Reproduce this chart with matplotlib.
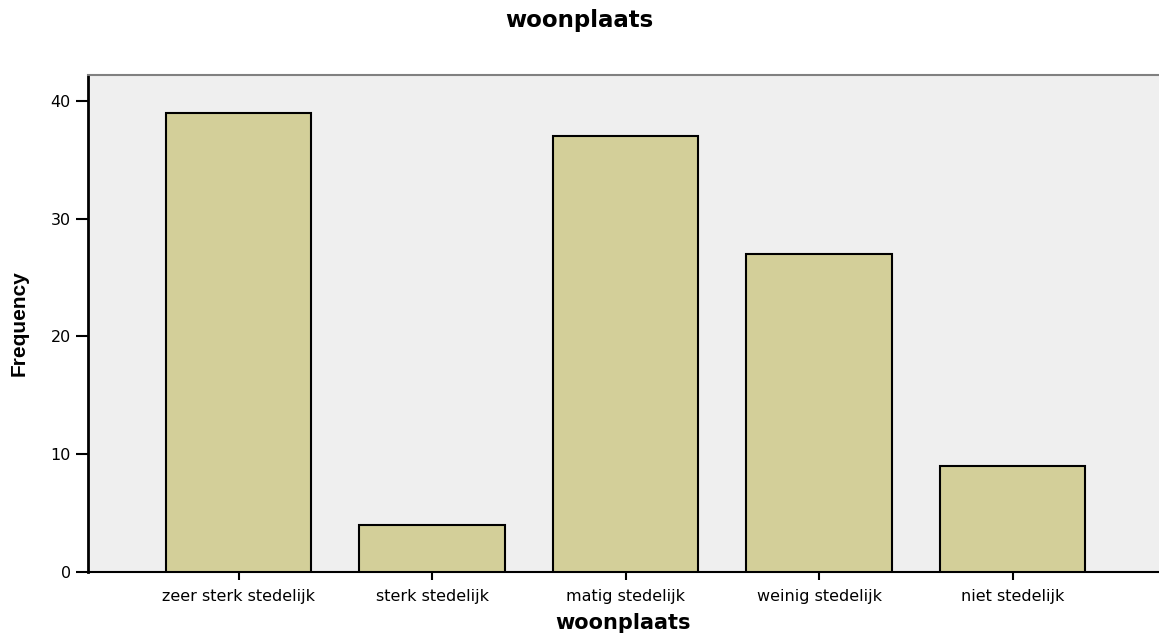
import matplotlib
matplotlib.use("Agg")
import matplotlib.pyplot as plt

categories = ["zeer sterk stedelijk", "sterk stedelijk", "matig stedelijk", "weinig stedelijk", "niet stedelijk"]
frequencies = [39, 4, 37, 27, 9]
yticks = [0, 10, 20, 30, 40]

plt.rcParams['font.family'] = ['DejaVu Sans']

fig = plt.figure(figsize=(11.59, 6.36), dpi=100)
ax = fig.add_axes([88/1159, 64/636, 1 - 88/1159, (572-75)/636])
ax.set_facecolor('#efefef')

x = list(range(len(categories)))
ax.bar(x, frequencies, width=0.75, color='#d3cf99', edgecolor='black', linewidth=1.5, zorder=3)

ax.set_xlim(-0.778, 4.757)
ax.set_ylim(0, 42.2)
ax.set_xticks(x)
ax.set_xticklabels(categories, fontsize=11.5)
ax.set_yticks(yticks)
ax.set_yticklabels([str(v) for v in yticks], fontsize=11.5)

ax.tick_params(axis='y', length=9, width=1.5, direction='out', pad=3.5)
ax.tick_params(axis='x', length=6, width=1.5, direction='out', pad=6)

ax.spines['right'].set_visible(False)
ax.spines['top'].set_color('#808080')
ax.spines['top'].set_linewidth(1.5)
ax.spines['left'].set_linewidth(2)
ax.spines['bottom'].set_linewidth(1.5)

ax.set_xlabel("woonplaats", fontsize=15, fontweight='bold', labelpad=7)
ax.set_ylabel("Frequency", fontsize=15, fontweight='bold', labelpad=15.5,
              family=['Liberation Sans', 'DejaVu Sans'])
fig.text(0.5, 1 - 21/636, "woonplaats", ha='center', va='center', fontsize=16.5, fontweight='bold')

fig.savefig("out.png", dpi=100)
